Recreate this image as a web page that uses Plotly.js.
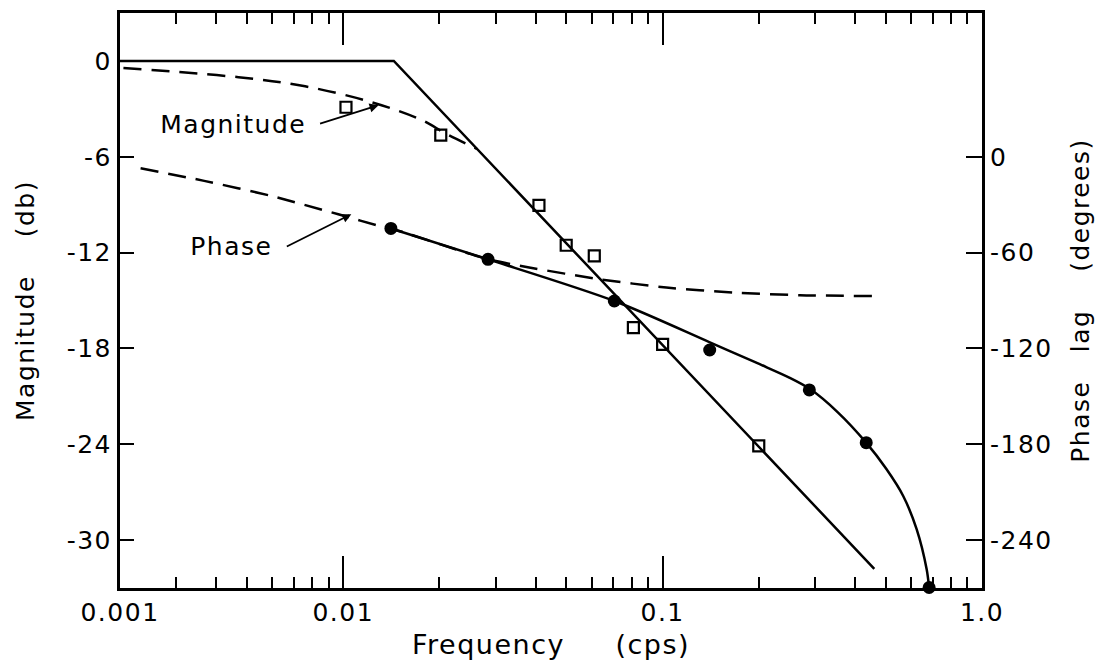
<!DOCTYPE html>
<html>
<head>
<meta charset="utf-8">
<script src="https://cdn.plot.ly/plotly-3.0.1.min.js"></script>
<style>
html,body{margin:0;padding:0;background:#fff;}
#chart{width:1106px;height:664px;}
#chart svg text{letter-spacing:1.5px;}
</style>
</head>
<body>
<div id="chart"></div>
<script>
// Frequency tick positions and labels (left edge is labelled 0.001 in the original)
const majorTickVals = [0.002, 0.01, 0.1, 1.0];
const majorTickText = ['0.001', '0.01', '0.1', '1.0'];
const minorTickVals = [0.003,0.004,0.005,0.006,0.007,0.008,0.009,
                       0.02,0.03,0.04,0.05,0.06,0.07,0.08,0.09,
                       0.2,0.3,0.4,0.5,0.6,0.7,0.8,0.9];
const magTickVals = [0, -6, -12, -18, -24, -30];
const magTickText = ['0', '-6', '-12', '-18', '-24', '-30'];
const phaseTickVals = [0, -60, -120, -180, -240];
const phaseTickText = ['0', '-60', '-120', '-180', '-240'];

// Magnitude asymptote (solid straight lines)
const asymFreq = [0.002, 0.0144, 0.46];
const asymMag  = [0, 0, -31.8];

// Magnitude theoretical curve (dashed)
const magDashFreq = [0.00205, 0.0047, 0.0076, 0.0123, 0.0176, 0.0211, 0.0262];
const magDashVal  = [-0.45, -1.02, -1.59, -2.59, -3.7, -4.59, -5.5];

// Measured magnitude (open squares)
const magPtsFreq = [0.0102, 0.0202, 0.041, 0.0499, 0.0611, 0.081, 0.1, 0.2];
const magPtsVal  = [-2.9, -4.65, -9.04, -11.54, -12.2, -16.7, -17.75, -24.1];

// Phase theoretical curve (dashed), degrees
const phaseDashFreq = [0.00232, 0.00367, 0.00595, 0.00965, 0.0135, 0.0141, 0.0284, 0.0382, 0.0634, 0.1027, 0.1657, 0.269, 0.456];
const phaseDashVal  = [-7.2, -15.1, -24.5, -36, -44.3, -44.9, -64.2, -69.3, -76.7, -81.9, -85, -86.7, -87.2];

// Phase fitted curve (solid), degrees
const phaseFitFreq = [0.0141, 0.0284, 0.0706, 0.14, 0.2014, 0.2501, 0.2889, 0.3537, 0.4325, 0.5026, 0.5666, 0.6242, 0.671, 0.683];
const phaseFitVal  = [-44.9, -64.2, -90.3, -116, -129.9, -138.4, -145.3, -160.0, -178.7, -195.7, -212.4, -233.2, -258.3, -269.7];

// Measured phase (filled circles), degrees
const phasePtsFreq = [0.0141, 0.0284, 0.0706, 0.1404, 0.288, 0.434, 0.683];
const phasePtsVal  = [-44.9, -64.2, -90.3, -121, -146, -179, -269.7];

const FONT = 'DejaVu Sans, Liberation Sans, sans-serif';
const dashStyle = '18px,10px';

const traces = [
  {x: asymFreq, y: asymMag, mode: 'lines', line: {color: '#000', width: 2.5}, yaxis: 'y', hoverinfo: 'skip'},
  {x: magDashFreq, y: magDashVal, mode: 'lines', line: {color: '#000', width: 2.5, dash: dashStyle, shape: 'spline'}, yaxis: 'y'},
  {x: phaseDashFreq, y: phaseDashVal, mode: 'lines', line: {color: '#000', width: 2.5, dash: dashStyle, shape: 'spline', smoothing: 0.6}, yaxis: 'y2'},
  {x: phaseFitFreq, y: phaseFitVal, mode: 'lines', line: {color: '#000', width: 2.5, shape: 'spline', smoothing: 0.8}, yaxis: 'y2'},
  {x: magPtsFreq, y: magPtsVal, mode: 'markers', marker: {symbol: 'square-open', size: 11, color: '#000', line: {width: 2.2, color: '#000'}}, yaxis: 'y'},
  {x: phasePtsFreq, y: phasePtsVal, mode: 'markers', marker: {symbol: 'circle', size: 13, color: '#000'}, yaxis: 'y2', cliponaxis: false}
];

const lg = v => Math.log10(v);

const layout = {
  width: 1106, height: 664,
  margin: {l: 120, r: 124, t: 13, b: 76},
  paper_bgcolor: '#fff', plot_bgcolor: '#fff',
  showlegend: false,
  font: {family: FONT, color: '#000', size: 25},
  xaxis: {
    type: 'log', range: [lg(0.002), lg(1.0)],
    tickmode: 'array', tickvals: majorTickVals, ticktext: majorTickText,
    ticks: 'inside', ticklen: 32, tickwidth: 2, tickcolor: '#000',
    showline: true, linewidth: 3, linecolor: '#000', mirror: 'ticks',
    showgrid: false, zeroline: false,
    tickfont: {size: 25, family: FONT},
    minor: {tickmode: 'array', tickvals: minorTickVals, ticks: 'inside', ticklen: 11, tickwidth: 2, tickcolor: '#000', showgrid: false},
    title: {text: 'Frequency\u00a0\u00a0\u00a0\u00a0\u00a0(cps)', font: {size: 27, family: FONT}, standoff: 10}
  },
  yaxis: {
    range: [-33, 3],
    tickmode: 'array', tickvals: magTickVals, ticktext: magTickText,
    ticks: 'inside', ticklen: 14, tickwidth: 2, tickcolor: '#000',
    showline: true, linewidth: 3, linecolor: '#000', mirror: false,
    showgrid: false, zeroline: false,
    tickfont: {size: 25, family: FONT},
    title: {text: 'Magnitude\u00a0\u00a0\u00a0\u00a0(db)', font: {size: 25, family: FONT}, standoff: 30}
  },
  yaxis2: {
    overlaying: 'y', side: 'right',
    range: [-270, 90],
    tickmode: 'array', tickvals: phaseTickVals, ticktext: phaseTickText,
    ticks: 'inside', ticklen: 16, tickwidth: 2, tickcolor: '#000',
    showline: true, linewidth: 3, linecolor: '#000',
    showgrid: false, zeroline: false,
    tickfont: {size: 25, family: FONT},
    title: {text: 'Phase\u00a0\u00a0\u00a0lag\u00a0\u00a0\u00a0\u00a0(degrees)', font: {size: 25, family: FONT}, standoff: 26}
  },
  annotations: [
    {x: lg(0.00453), y: -3.97, xref: 'x', yref: 'y', text: 'Magnitude', showarrow: false, font: {size: 25, family: FONT}},
    {x: lg(0.00448), y: -11.6, xref: 'x', yref: 'y', text: 'Phase', showarrow: false, font: {size: 25, family: FONT}},
    {x: lg(0.0129), y: -2.77, xref: 'x', yref: 'y', text: '', showarrow: true, arrowhead: 2, arrowsize: 1, arrowwidth: 1.8, arrowcolor: '#000', ax: -60, ay: 19},
    {x: lg(0.0106), y: -9.6, xref: 'x', yref: 'y', text: '', showarrow: true, arrowhead: 2, arrowsize: 1, arrowwidth: 1.8, arrowcolor: '#000', ax: -66, ay: 33}
  ]
};

Plotly.newPlot('chart', traces, layout, {staticPlot: true, displayModeBar: false});
</script>
</body>
</html>
